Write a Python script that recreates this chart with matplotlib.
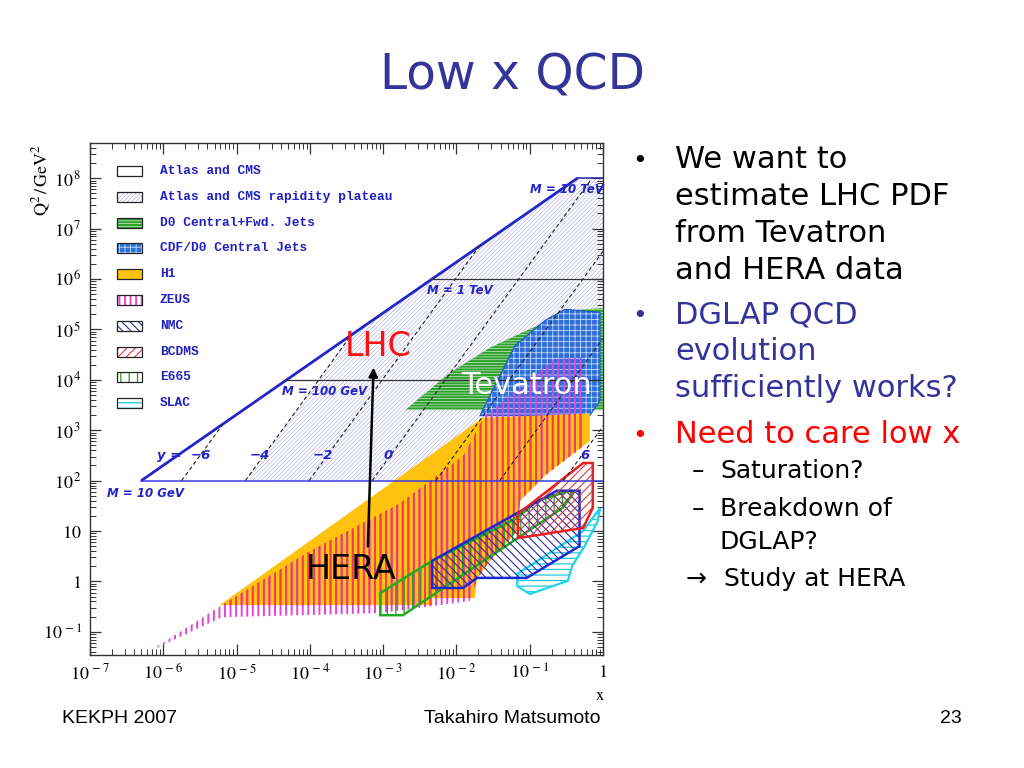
import numpy as np
import matplotlib
matplotlib.use('Agg')
import matplotlib as mpl
import matplotlib.pyplot as plt
from matplotlib.patches import Polygon, Rectangle
from matplotlib.ticker import FixedLocator, FixedFormatter, LogLocator, NullFormatter

mpl.rcParams['mathtext.fontset'] = 'stix'

# ---------------- data (log10 x, log10 Q^2) ----------------
# LHC kinematic boundary (y = 1 line) and fixed-mass lines
lhc_diag_lx = [-6.30, -0.35]
lhc_diag_lq = [2.0, 8.0]
mass_labels = ['M = 10 GeV', 'M = 100 GeV', 'M = 1 TeV', 'M = 10 TeV']
mass_lq = [2.0, 4.0, 6.0, 8.0]
mass_start_lx = [-6.30, -4.32, -2.33, -0.35]
mass_end_lx = [0.0, 0.0, 0.0, 0.0]

# rapidity lines (start / end points)
rap_values = [-6, -4, -2, 0, 2, 4, 6]
rap_lx0 = [-5.75, -4.88, -4.01, -3.15, -2.28, -1.41, -0.54]
rap_lq0 = [2.0, 2.0, 2.0, 2.0, 2.0, 2.0, 2.0]
rap_lx1 = [-5.19, -3.44, -1.69, -0.15, 0.0, 0.0, 0.0]
rap_lq1 = [3.11, 4.88, 6.65, 8.0, 6.55, 4.82, 3.08]

# rapidity plateau (|y| < 4)
plateau_lx = [-4.88, -3.44, -0.35, 0.0, 0.0, -1.41]
plateau_lq = [2.0, 4.88, 8.0, 8.0, 4.82, 2.0]

# Tevatron
d0_lx = [-2.70, -2.09, -1.54, -0.45, -0.04, 0.0, 0.0]
d0_lq = [3.40, 4.14, 4.64, 5.38, 5.42, 5.42, 3.40]
cdf_lx = [-1.68, -1.20, -0.79, -0.52, -0.04, -0.04, -0.18]
cdf_lq = [3.29, 4.68, 5.18, 5.40, 5.34, 3.59, 3.29]

# HERA
h1_lx = [-5.23, -1.64, -0.18, -0.18, -0.79, -1.13, -1.17, -1.54, -1.72, -1.75, -2.33, -2.33]
h1_lq = [-0.47, 3.25, 3.33, 2.79, 2.10, 1.60, 1.00, 0.41, 0.05, -0.33, -0.33, -0.47]
zeus_lx = [-6.18, -5.20, -4.00, -2.77, -1.90, -1.62, -0.66, -0.25, -0.25, -0.79, -1.13, -1.17,
           -1.54, -1.72, -1.82, -3.04, -5.20]
zeus_lq = [-1.38, -0.47, 0.60, 1.55, 2.50, 3.28, 4.42, 4.44, 2.70, 2.10, 1.60, 1.00,
           0.41, 0.05, -0.39, -0.63, -0.71]

# fixed target
e665_lx = [-3.04, -3.04, -2.73, -0.55, -0.41, -0.45, -0.90, -1.17, -2.33]
e665_lq = [-0.23, -0.67, -0.67, 1.46, 1.74, 1.80, 1.60, 1.26, 0.41]
nmc_lx = [-2.33, -2.33, -1.91, -1.72, -1.04, -0.32, -0.32, -0.63]
nmc_lq = [0.41, -0.13, -0.13, 0.07, 0.07, 0.70, 1.80, 1.80]
bcdms_lx = [-1.16, -1.16, -0.27, -0.14, -0.14, -0.27]
bcdms_lq = [1.34, 0.86, 1.06, 1.46, 2.35, 2.35]
slac_lx = [-0.04, -0.07, -0.25, -0.42, -0.48, -1.00, -1.17, -1.17, -0.27]
slac_lq = [1.46, 1.20, 0.70, 0.31, 0.01, -0.25, -0.09, 0.15, 1.00]

legend_labels = ['Atlas and CMS', 'Atlas and CMS rapidity plateau', 'D0 Central+Fwd. Jets',
                 'CDF/D0 Central Jets', 'H1', 'ZEUS', 'NMC', 'BCDMS', 'E665', 'SLAC']
legend_keys = ['atlas', 'plateau', 'd0', 'cdf', 'h1', 'zeus', 'nmc', 'bcdms', 'e665', 'slac']

x_ticks_exp = [-7, -6, -5, -4, -3, -2, -1, 0]
x_tick_labels = [r'$10^{\,-7}$', r'$10^{\,-6}$', r'$10^{\,-5}$', r'$10^{\,-4}$',
                 r'$10^{\,-3}$', r'$10^{\,-2}$', r'$10^{\,-1}$', r'$1$']
y_ticks_exp = [-1, 0, 1, 2, 3, 4, 5, 6, 7, 8]
y_tick_labels = [r'$10^{\,-1}$', r'$1$', r'$10$', r'$10^{\,2}$', r'$10^{\,3}$', r'$10^{\,4}$',
                 r'$10^{\,5}$', r'$10^{\,6}$', r'$10^{\,7}$', r'$10^{\,8}$']

# ---------------- styles ----------------
styles = {
    'atlas':   dict(face='white', hatch=None, hc='none', hlw=0.5),
    'plateau': dict(face='white', hatch='////////', hc='#a4a4e2', hlw=0.4),
    'd0':      dict(face='#2ea02e', hatch='------', hc='#cdeccd', hlw=0.5),
    'cdf':     dict(face='#2f6ed8', hatch='+++', hc='#c4d8f8', hlw=0.6),
    'h1':      dict(face='#ffc20e', hatch=None, hc='none', hlw=0.5),
    'zeus':    dict(face='none', hatch='|||', hc='#e044d8', hlw=1.4),
    'nmc':     dict(face='none', hatch='\\\\\\\\', hc='#2a2aa8', hlw=0.8),
    'bcdms':   dict(face='none', hatch='////', hc='#e03a3a', hlw=0.8),
    'e665':    dict(face='none', hatch='||', hc='#1e9e1e', hlw=0.9),
    'slac':    dict(face='none', hatch='---', hc='#22c8dc', hlw=0.9),
}

W, H = 1024, 768
fig = plt.figure(figsize=(W / 100, H / 100), dpi=100)
fig.patch.set_facecolor('white')

ax_l, ax_r, ax_t, ax_b = 90, 603, 143, 655
ax = fig.add_axes([ax_l / W, 1 - ax_b / H, (ax_r - ax_l) / W, (ax_b - ax_t) / H])
ax.set_xscale('log')
ax.set_yscale('log')
ax.set_xlim(1e-7, 1.0)
ax.set_ylim(10 ** -1.46, 10 ** 8.70)


def P(lx, lq):
    return np.column_stack([np.power(10.0, lx), np.power(10.0, lq)])


def hatched(artist_cls, args, st, z, transform=None, clip=None, color=None):
    mpl.rcParams['hatch.linewidth'] = st['hlw']
    kw = dict(facecolor=st['face'], edgecolor=color or st['hc'], hatch=st['hatch'],
              linewidth=0, zorder=z)
    if transform is not None:
        kw['transform'] = transform
    p = artist_cls(*args, **kw)
    if hasattr(p, 'set_hatch_linewidth'):
        p.set_hatch_linewidth(st['hlw'])
    if transform is None:
        ax.add_patch(p)
    else:
        ax.add_artist(p)
    if clip is not None:
        p.set_clip_path(clip)
    return p


def outline(xy, color, lw, z):
    p = Polygon(xy, closed=True, fill=False, edgecolor=color, linewidth=lw, zorder=z)
    ax.add_patch(p)
    return p


# LHC plateau
hatched(Polygon, (P(plateau_lx, plateau_lq),), styles['plateau'], 1)

# Tevatron
hatched(Polygon, (P(d0_lx, d0_lq),), styles['d0'], 3)
hatched(Polygon, (P(cdf_lx, cdf_lq),), styles['cdf'], 4)
outline(P(cdf_lx, cdf_lq), '#1f55c8', 0.8, 4)

# HERA
h1 = hatched(Polygon, (P(h1_lx, h1_lq),), styles['h1'], 5)
hatched(Polygon, (P(zeus_lx, zeus_lq),), styles['zeus'], 6)
hatched(Polygon, (P(zeus_lx, zeus_lq),), styles['zeus'], 6.5, clip=h1, color='#f23c5a')

# fixed target
hatched(Polygon, (P(slac_lx, slac_lq),), styles['slac'], 7)
outline(P(slac_lx, slac_lq), '#22d4e8', 1.6, 7)
hatched(Polygon, (P(e665_lx, e665_lq),), styles['e665'], 7.2)
outline(P(e665_lx, e665_lq), '#22aa22', 1.8, 7.2)
hatched(Polygon, (P(nmc_lx, nmc_lq),), styles['nmc'], 7.4)
outline(P(nmc_lx, nmc_lq), '#1a2ad0', 1.8, 7.4)
hatched(Polygon, (P(bcdms_lx, bcdms_lq),), styles['bcdms'], 7.6)
outline(P(bcdms_lx, bcdms_lq), '#e82020', 1.8, 7.6)

# LHC lines (on top)
ax.plot(np.power(10.0, lhc_diag_lx), np.power(10.0, lhc_diag_lq), color='#2424c8', lw=2.0,
        zorder=9, solid_capstyle='butt')
mass_colors = ['#3a3ae0', '#333333', '#333333', '#2424a0']
mass_lws = [1.1, 0.9, 0.9, 1.1]
for lq, x0, x1, c, lw in zip(mass_lq, mass_start_lx, mass_end_lx, mass_colors, mass_lws):
    ax.plot([10 ** x0, 10 ** x1], [10 ** lq, 10 ** lq], color=c, lw=lw, zorder=9)
for x0, q0, x1, q1 in zip(rap_lx0, rap_lq0, rap_lx1, rap_lq1):
    ax.plot([10 ** x0, 10 ** x1], [10 ** q0, 10 ** q1], color='#222222', lw=0.8,
            ls=(0, (3.5, 2.5)), zorder=9)

# mass labels
mass_label_pos = [(-6.77, 1.74), (-4.38, 3.77), (-2.40, 5.77), (-1.0, 7.77)]
for txt, (lx, lq) in zip(mass_labels, mass_label_pos):
    ax.text(10 ** lx, 10 ** lq, txt, color='#2323c8', fontsize=8.5, fontweight='bold',
            fontstyle='italic', ha='left', va='center', zorder=10, family='DejaVu Sans')

# rapidity labels
rap_label_pos = [('y =', -6.09, 'left'), ('\u22126', -5.49, 'center'), ('\u22124', -4.68, 'center'),
                 ('\u22122', -3.83, 'center'), ('0', -2.93, 'center'), ('6', -0.25, 'center')]
for txt, lx, ha in rap_label_pos:
    ax.text(10 ** lx, 10 ** 2.49, txt, color='#2323c8', fontsize=9.5, fontweight='bold',
            fontstyle='italic', ha=ha, va='center', zorder=10, family='DejaVu Sans')

# big annotations
ax.annotate('', xy=(10 ** -3.13, 10 ** 4.30), xytext=(10 ** -3.21, 10 ** 0.64),
            arrowprops=dict(arrowstyle='-|>', color='black', lw=1.8, mutation_scale=13),
            zorder=11)
ax.text(10 ** -3.07, 10 ** 4.66, 'LHC', color='#ff1010', fontsize=24, ha='center',
        va='center', zorder=12, family='DejaVu Sans')
ax.text(10 ** -1.04, 10 ** 3.88, 'Tevatron', color='white', fontsize=22, ha='center',
        va='center', zorder=12, family='DejaVu Sans')
ax.text(10 ** -3.44, 10 ** 0.23, 'HERA', color='black', fontsize=24, ha='center',
        va='center', zorder=12, family='DejaVu Sans')

# legend (manual, axes coordinates)
leg_x, leg_w, leg_h = 0.0526, 0.0487, 0.0195
leg_rows = [0.945, 0.895, 0.844, 0.795, 0.744, 0.693, 0.643, 0.592, 0.543, 0.492]
for key, lab, yy in zip(legend_keys, legend_labels, leg_rows):
    st = styles[key]
    hatched(Rectangle, ((leg_x, yy - leg_h / 2), leg_w, leg_h), st, 20, transform=ax.transAxes)
    r = Rectangle((leg_x, yy - leg_h / 2), leg_w, leg_h, fill=False, edgecolor='#222222',
                  linewidth=0.9, transform=ax.transAxes, zorder=21)
    ax.add_artist(r)
    ax.text(0.136, yy, lab, transform=ax.transAxes, color='#2020c0', fontsize=9.3,
            family='Liberation Mono', fontweight='bold', ha='left', va='center', zorder=21)

# axes styling
ax.xaxis.set_major_locator(FixedLocator([10.0 ** e for e in x_ticks_exp]))
ax.xaxis.set_major_formatter(FixedFormatter(x_tick_labels))
ax.yaxis.set_major_locator(FixedLocator([10.0 ** e for e in y_ticks_exp]))
ax.yaxis.set_major_formatter(FixedFormatter(y_tick_labels))
ax.xaxis.set_minor_locator(LogLocator(base=10, subs=np.arange(2, 10), numticks=30))
ax.yaxis.set_minor_locator(LogLocator(base=10, subs=np.arange(2, 10), numticks=30))
ax.xaxis.set_minor_formatter(NullFormatter())
ax.yaxis.set_minor_formatter(NullFormatter())
ax.tick_params(which='both', direction='in', top=True, right=True, colors='#333333',
               labelcolor='black')
ax.tick_params(which='major', length=8, width=0.9, labelsize=13, pad=6)
ax.tick_params(which='minor', length=4, width=0.7)
for s in ax.spines.values():
    s.set_color('#333333')
    s.set_linewidth(1.0)

fig.text(42 / W, 1 - 180 / H, r'$\mathrm{Q^2\,/\,GeV^2}$', rotation=90, ha='center',
         va='center', fontsize=13)
fig.text(600 / W, 1 - 695 / H, r'$\mathrm{x}$', ha='center', va='center', fontsize=12)

# ---------------- slide text ----------------
fig.text(512 / W, 1 - 76 / H, 'Low x QCD', color='#333399', fontsize=35, ha='center',
         va='center', family='DejaVu Sans')

navy = '#333399'
main_lines = [
    ('We want to', 168, 'black'),
    ('estimate LHC PDF', 205, 'black'),
    ('from Tevatron', 242, 'black'),
    ('and HERA data', 279, 'black'),
    ('DGLAP QCD', 323, navy),
    ('evolution', 360, navy),
    ('sufficiently works?', 397, navy),
    ('Need to care low x', 443, '#ff0000'),
]
for txt, yb, c in main_lines:
    fig.text(675 / W, 1 - yb / H, txt, color=c, fontsize=22, ha='left', va='baseline',
             family='DejaVu Sans')
bullets = [(168, 'black'), (323, navy), (443, '#ff0000')]
for yb, c in bullets:
    fig.text(640 / W, 1 - yb / H, '\u2022', color=c, fontsize=18, ha='center', va='baseline',
             family='DejaVu Sans')

sub_lines = [
    ('\u2013', 692, 478), ('Saturation?', 720, 478),
    ('\u2013', 692, 516), ('Breakdown of', 720, 516),
    ('DGLAP?', 720, 549),
    ('\u2192', 686, 586), ('Study at HERA', 724, 586),
]
for txt, x, yb in sub_lines:
    fig.text(x / W, 1 - yb / H, txt, color='black', fontsize=18, ha='left', va='baseline',
             family='DejaVu Sans')

fig.text(62 / W, 1 - 723 / H, 'KEKPH 2007', fontsize=14, ha='left', va='baseline',
         family='Liberation Sans')
fig.text(512 / W, 1 - 723 / H, 'Takahiro Matsumoto', fontsize=14, ha='center', va='baseline',
         family='Liberation Sans')
fig.text(962 / W, 1 - 723 / H, '23', fontsize=14, ha='right', va='baseline',
         family='Liberation Sans')

fig.savefig('out.png', dpi=100)
